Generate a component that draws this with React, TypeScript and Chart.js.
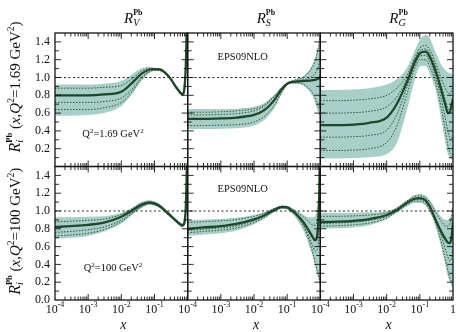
import React, { useEffect, useRef } from 'react';
import { Chart, registerables } from 'chart.js';

Chart.register(...registerables);

// ---------------- data ----------------
const X_VALUES = [1e-4, 3e-4, 1e-3, 3e-3, 0.01, 0.02, 0.04, 0.07, 0.1, 0.15, 0.2, 0.3, 0.45, 0.6, 0.7, 0.8, 0.9, 0.95, 1];
const DECADE_EXPONENTS = ['-4', '-3', '-2', '-1'];
const LAST_X_LABEL = '1';
const Y_TICKS_TOP = ['0.2', '0.4', '0.6', '0.8', '1.0', '1.2', '1.4'];
const Y_TICKS_BOTTOM = ['0.0', '0.2', '0.4', '0.6', '0.8', '1.0', '1.2', '1.4'];
const FLAVOURS = ['V', 'S', 'G'];
const Q2_LABELS = ['1.69', '100'];
const SET_NAME = 'EPS09NLO';
const REF_VALUE = 1.0;

// Q^2 = 1.69 GeV^2, valence
const RV_Q1_CENTRAL = [0.80, 0.80, 0.80, 0.81, 0.84, 0.93, 1.04, 1.09, 1.095, 1.09, 1.06, 0.99, 0.89, 0.83, 0.81, 0.88, 1.25, 1.7, 2.5];
const RV_Q1_UPPER = [0.92, 0.92, 0.92, 0.93, 0.96, 1.03, 1.10, 1.12, 1.11, 1.10, 1.075, 1.01, 0.91, 0.85, 0.83, 0.91, 1.3, 1.75, 2.6];
const RV_Q1_LOWER = [0.57, 0.57, 0.58, 0.60, 0.68, 0.80, 0.96, 1.05, 1.075, 1.07, 1.045, 0.97, 0.87, 0.81, 0.79, 0.85, 1.2, 1.65, 2.4];
const RV_Q1_SET1 = [0.88, 0.88, 0.88, 0.89, 0.91, 0.98, 1.07, 1.10, 1.10, 1.095, 1.065, 1.0, 0.90, 0.84, 0.82, 0.89, 1.28, 1.72, 2.5];
const RV_Q1_SET2 = [0.72, 0.72, 0.72, 0.73, 0.77, 0.86, 1.0, 1.07, 1.085, 1.08, 1.055, 0.98, 0.88, 0.82, 0.80, 0.86, 1.22, 1.68, 2.45];
const RV_Q1_SET3 = [0.64, 0.64, 0.64, 0.66, 0.72, 0.83, 0.98, 1.06, 1.08, 1.075, 1.05, 0.975, 0.875, 0.815, 0.795, 0.86, 1.22, 1.67, 2.45];

// Q^2 = 1.69 GeV^2, sea
const RS_Q1_CENTRAL = [0.535, 0.535, 0.54, 0.55, 0.58, 0.63, 0.74, 0.87, 0.93, 0.95, 0.955, 0.96, 0.965, 0.97, 0.975, 0.98, 0.99, 1.0, 1.02];
const RS_Q1_UPPER = [0.645, 0.645, 0.645, 0.65, 0.67, 0.71, 0.80, 0.90, 0.945, 0.97, 0.985, 1.01, 1.08, 1.16, 1.22, 1.30, 1.40, 1.46, 1.52];
const RS_Q1_LOWER = [0.42, 0.42, 0.425, 0.43, 0.46, 0.52, 0.65, 0.82, 0.91, 0.93, 0.93, 0.91, 0.85, 0.78, 0.72, 0.64, 0.58, 0.57, 0.58];
const RS_Q1_SET1 = [0.61, 0.61, 0.615, 0.625, 0.65, 0.69, 0.79, 0.89, 0.94, 0.965, 0.98, 1.0, 1.06, 1.13, 1.19, 1.27, 1.36, 1.42, 1.48];
const RS_Q1_SET2 = [0.46, 0.46, 0.465, 0.47, 0.50, 0.56, 0.68, 0.84, 0.92, 0.94, 0.94, 0.925, 0.88, 0.82, 0.77, 0.70, 0.66, 0.72, 0.95];
const RS_Q1_SET3 = [0.58, 0.58, 0.585, 0.595, 0.625, 0.675, 0.78, 0.885, 0.935, 0.955, 0.965, 0.975, 0.99, 1.02, 1.05, 1.09, 1.14, 1.18, 1.22];

// Q^2 = 1.69 GeV^2, gluon
const RG_Q1_CENTRAL = [0.465, 0.465, 0.47, 0.49, 0.55, 0.70, 0.94, 1.17, 1.27, 1.29, 1.23, 1.07, 0.85, 0.68, 0.60, 0.61, 0.68, 0.72, 0.76];
const RG_Q1_UPPER = [0.86, 0.86, 0.865, 0.88, 0.92, 0.98, 1.10, 1.30, 1.42, 1.48, 1.44, 1.28, 1.14, 1.08, 1.06, 1.05, 1.04, 1.03, 1.02];
const RG_Q1_LOWER = [0.09, 0.09, 0.095, 0.105, 0.14, 0.26, 0.62, 0.97, 1.12, 1.13, 1.04, 0.86, 0.52, 0.25, 0.14, 0.10, 0.08, 0.08, 0.08];
const RG_Q1_SET1 = [0.74, 0.74, 0.745, 0.76, 0.80, 0.88, 1.02, 1.22, 1.33, 1.36, 1.31, 1.16, 0.98, 0.87, 0.83, 0.82, 0.85, 0.88, 0.90];
const RG_Q1_SET2 = [0.60, 0.60, 0.605, 0.62, 0.67, 0.78, 0.98, 1.20, 1.30, 1.32, 1.27, 1.11, 0.90, 0.74, 0.66, 0.63, 0.68, 0.72, 0.75];
const RG_Q1_SET3 = [0.33, 0.33, 0.335, 0.35, 0.41, 0.58, 0.88, 1.14, 1.24, 1.25, 1.18, 1.0, 0.75, 0.52, 0.40, 0.33, 0.32, 0.33, 0.35];
const RG_Q1_SET4 = [0.18, 0.18, 0.185, 0.20, 0.27, 0.45, 0.80, 1.10, 1.20, 1.20, 1.12, 0.94, 0.64, 0.38, 0.24, 0.16, 0.13, 0.12, 0.12];

// Q^2 = 100 GeV^2, valence
const RV_Q2_CENTRAL = [0.82, 0.83, 0.845, 0.87, 0.935, 1.0, 1.07, 1.095, 1.085, 1.05, 1.01, 0.95, 0.89, 0.85, 0.84, 0.87, 1.15, 1.6, 2.5];
const RV_Q2_UPPER = [0.93, 0.93, 0.935, 0.94, 0.98, 1.03, 1.10, 1.12, 1.11, 1.07, 1.03, 0.97, 0.91, 0.87, 0.86, 0.90, 1.2, 1.65, 2.6];
const RV_Q2_LOWER = [0.69, 0.70, 0.72, 0.77, 0.86, 0.95, 1.03, 1.07, 1.06, 1.03, 0.99, 0.93, 0.87, 0.83, 0.82, 0.85, 1.1, 1.55, 2.4];
const RV_Q2_SET1 = [0.88, 0.885, 0.895, 0.91, 0.96, 1.02, 1.085, 1.105, 1.095, 1.06, 1.02, 0.96, 0.90, 0.86, 0.85, 0.88, 1.17, 1.62, 2.5];
const RV_Q2_SET2 = [0.76, 0.77, 0.79, 0.82, 0.90, 0.975, 1.05, 1.085, 1.075, 1.04, 1.0, 0.94, 0.88, 0.84, 0.83, 0.86, 1.13, 1.58, 2.5];
const RV_Q2_SET3 = [0.72, 0.73, 0.75, 0.79, 0.88, 0.965, 1.045, 1.08, 1.07, 1.035, 0.995, 0.935, 0.875, 0.835, 0.825, 0.855, 1.12, 1.57, 2.5];

// Q^2 = 100 GeV^2, sea
const RS_Q2_CENTRAL = [0.80, 0.815, 0.83, 0.855, 0.905, 0.95, 1.01, 1.045, 1.04, 0.995, 0.955, 0.88, 0.78, 0.70, 0.67, 0.72, 1.0, 1.4, 2.3];
const RS_Q2_UPPER = [0.90, 0.905, 0.91, 0.925, 0.955, 0.985, 1.035, 1.06, 1.06, 1.03, 1.0, 0.96, 0.93, 0.93, 0.95, 1.02, 1.3, 1.7, 2.5];
const RS_Q2_LOWER = [0.72, 0.735, 0.75, 0.78, 0.85, 0.91, 0.985, 1.025, 1.015, 0.96, 0.90, 0.79, 0.62, 0.48, 0.38, 0.29, 0.22, 0.18, 0.16];
const RS_Q2_SET1 = [0.87, 0.88, 0.89, 0.905, 0.94, 0.975, 1.025, 1.055, 1.05, 1.015, 0.985, 0.935, 0.88, 0.84, 0.84, 0.90, 1.2, 1.6, 2.4];
const RS_Q2_SET2 = [0.755, 0.77, 0.785, 0.81, 0.87, 0.925, 0.995, 1.035, 1.03, 0.98, 0.935, 0.85, 0.72, 0.60, 0.55, 0.56, 0.75, 1.1, 1.8];
const RS_Q2_SET3 = [0.78, 0.795, 0.81, 0.835, 0.89, 0.94, 1.0, 1.04, 1.035, 0.985, 0.94, 0.84, 0.68, 0.52, 0.42, 0.33, 0.26, 0.22, 0.20];

// Q^2 = 100 GeV^2, gluon
const RG_Q2_CENTRAL = [0.875, 0.88, 0.89, 0.91, 0.955, 1.01, 1.09, 1.14, 1.145, 1.12, 1.05, 0.90, 0.76, 0.68, 0.645, 0.64, 0.70, 0.78, 0.88];
const RG_Q2_UPPER = [0.98, 0.98, 0.98, 0.985, 0.995, 1.04, 1.12, 1.18, 1.19, 1.17, 1.12, 1.02, 0.93, 0.90, 0.90, 0.92, 0.97, 1.02, 1.08];
const RG_Q2_LOWER = [0.80, 0.805, 0.815, 0.84, 0.91, 0.98, 1.05, 1.09, 1.09, 1.06, 0.99, 0.83, 0.58, 0.38, 0.27, 0.20, 0.16, 0.15, 0.15];
const RG_Q2_SET1 = [0.94, 0.94, 0.945, 0.955, 0.98, 1.03, 1.11, 1.165, 1.17, 1.15, 1.10, 0.99, 0.88, 0.83, 0.83, 0.86, 0.92, 0.98, 1.04];
const RG_Q2_SET2 = [0.83, 0.835, 0.845, 0.865, 0.92, 0.99, 1.065, 1.11, 1.11, 1.08, 1.01, 0.86, 0.64, 0.44, 0.33, 0.25, 0.21, 0.20, 0.20];
const RG_Q2_SET3 = [0.86, 0.865, 0.875, 0.895, 0.94, 1.0, 1.08, 1.125, 1.13, 1.10, 1.04, 0.90, 0.72, 0.56, 0.48, 0.44, 0.47, 0.52, 0.58];

const PANELS = [
  { col: 0, row: 0, central: RV_Q1_CENTRAL, upper: RV_Q1_UPPER, lower: RV_Q1_LOWER, sets: [RV_Q1_SET1, RV_Q1_SET2, RV_Q1_SET3] },
  { col: 1, row: 0, central: RS_Q1_CENTRAL, upper: RS_Q1_UPPER, lower: RS_Q1_LOWER, sets: [RS_Q1_SET1, RS_Q1_SET2, RS_Q1_SET3] },
  { col: 2, row: 0, central: RG_Q1_CENTRAL, upper: RG_Q1_UPPER, lower: RG_Q1_LOWER, sets: [RG_Q1_SET1, RG_Q1_SET2, RG_Q1_SET3, RG_Q1_SET4] },
  { col: 0, row: 1, central: RV_Q2_CENTRAL, upper: RV_Q2_UPPER, lower: RV_Q2_LOWER, sets: [RV_Q2_SET1, RV_Q2_SET2, RV_Q2_SET3] },
  { col: 1, row: 1, central: RS_Q2_CENTRAL, upper: RS_Q2_UPPER, lower: RS_Q2_LOWER, sets: [RS_Q2_SET1, RS_Q2_SET2, RS_Q2_SET3] },
  { col: 2, row: 1, central: RG_Q2_CENTRAL, upper: RG_Q2_UPPER, lower: RG_Q2_LOWER, sets: [RG_Q2_SET1, RG_Q2_SET2, RG_Q2_SET3] },
];

// ---------------- layout / style ----------------
const W = 456;
const H = 332;
const PAD = { left: 55, top: 33, right: 3, bottom: 32 };
const DECADES = 4;
const SPAN = 1.5; // visible y-range of one panel
const HALF_PX = (H - PAD.top - PAD.bottom) / 2;
const FONT = '"Liberation Serif", "Times New Roman", serif';
const BAND = 'rgb(168, 206, 200)';
const DARK = '#1f4628';
const SET_COLOR = 'rgba(28, 66, 36, 0.85)';

function toPoints(vals: number[], col: number, row: number, clamp: boolean) {
  return X_VALUES.map((xv, i) => {
    let v = vals[i];
    if (clamp) v = Math.max(0, Math.min(SPAN, v));
    return { x: col * DECADES + Math.log10(xv) + DECADES, y: v + (row === 0 ? SPAN : 0) };
  });
}

function rowClip(row: number) {
  return row === 0
    ? { left: 0, right: 0, top: 0, bottom: -HALF_PX }
    : { left: 0, right: 0, top: -HALF_PX, bottom: 0 };
}

type Run = { t: string; f: string; dy?: number; stay?: boolean };

function runsWidth(ctx: CanvasRenderingContext2D, runs: Run[]) {
  let w = 0;
  let pending = 0;
  for (const r of runs) {
    ctx.font = r.f;
    const rw = ctx.measureText(r.t).width;
    if (r.stay) pending = Math.max(pending, rw);
    else { w += Math.max(rw, pending); pending = 0; }
  }
  return w + pending;
}

function drawRuns(ctx: CanvasRenderingContext2D, runs: Run[], x: number, y: number) {
  let cx = x;
  let pending = 0;
  for (const r of runs) {
    ctx.font = r.f;
    ctx.fillText(r.t, cx, y + (r.dy || 0));
    const rw = ctx.measureText(r.t).width;
    if (r.stay) pending = Math.max(pending, rw);
    else { cx += Math.max(rw, pending); pending = 0; }
  }
}

function drawRunsCentered(ctx: CanvasRenderingContext2D, runs: Run[], cx: number, y: number) {
  drawRuns(ctx, runs, cx - runsWidth(ctx, runs) / 2, y);
}

const decorPlugin = {
  id: 'decor',
  afterDraw(chart: any) {
    const ctx: CanvasRenderingContext2D = chart.ctx;
    const xs = chart.scales.x;
    const ys = chart.scales.y;
    ctx.save();
    ctx.strokeStyle = '#151515';
    ctx.fillStyle = '#111';
    const seg = (a: number, b: number, c: number, d: number) => {
      ctx.beginPath(); ctx.moveTo(a, b); ctx.lineTo(c, d); ctx.stroke();
    };
    for (let c = 0; c < 3; c++) {
      for (let r = 0; r < 2; r++) {
        const base = r === 0 ? SPAN : 0;
        const x0 = xs.getPixelForValue(c * DECADES);
        const x1 = xs.getPixelForValue((c + 1) * DECADES);
        const yT = ys.getPixelForValue(base + SPAN);
        const yB = ys.getPixelForValue(base);
        ctx.lineWidth = 0.9;
        for (let d = 0; d < DECADES; d++) {
          for (let m = 1; m <= 9; m++) {
            if (d === 0 && m === 1) continue;
            const px = xs.getPixelForValue(c * DECADES + d + Math.log10(m));
            const len = m === 1 ? 6 : 3.5;
            seg(px, yT, px, yT + len);
            seg(px, yB, px, yB - len);
          }
        }
        for (let k = 1; k < 15; k++) {
          const py = ys.getPixelForValue(base + k * 0.1);
          const len = k % 2 === 0 ? 6 : 4;
          seg(x0, py, x0 + len, py);
          seg(x1, py, x1 - len, py);
        }
        ctx.lineWidth = 1.3;
        ctx.strokeRect(x0, yT, x1 - x0, yB - yT);
      }
    }

    // y tick labels
    ctx.font = `12px ${FONT}`;
    ctx.textAlign = 'right';
    ctx.textBaseline = 'middle';
    const xl = xs.getPixelForValue(0) - 5;
    for (const t of Y_TICKS_TOP) ctx.fillText(t, xl, ys.getPixelForValue(parseFloat(t) + SPAN));
    for (const t of Y_TICKS_BOTTOM) ctx.fillText(t, xl, ys.getPixelForValue(parseFloat(t)));

    ctx.textAlign = 'left';
    ctx.textBaseline = 'alphabetic';
    const yBottom = ys.getPixelForValue(0);
    const yTopRow = ys.getPixelForValue(2 * SPAN);
    const yMidRow = ys.getPixelForValue(SPAN);

    for (let c = 0; c < 3; c++) {
      const x0 = xs.getPixelForValue(c * DECADES);
      const x1 = xs.getPixelForValue((c + 1) * DECADES);
      // x tick labels
      DECADE_EXPONENTS.forEach((e, d) => {
        const px = xs.getPixelForValue(c * DECADES + d);
        drawRunsCentered(ctx, [
          { t: '10', f: `12px ${FONT}` },
          { t: e, f: `8px ${FONT}`, dy: -6 },
        ], px, yBottom + 13);
      });
      if (c === 2) {
        ctx.font = `12px ${FONT}`;
        ctx.textAlign = 'center';
        ctx.fillText(LAST_X_LABEL, x1, yBottom + 13);
        ctx.textAlign = 'left';
      }
      // x axis title
      ctx.font = `italic 14px ${FONT}`;
      ctx.textAlign = 'center';
      ctx.fillText('x', (x0 + x1) / 2 + 2, yBottom + 29);
      ctx.textAlign = 'left';
      // panel title
      drawRuns(ctx, [
        { t: 'R', f: `italic 15px ${FONT}` },
        { t: FLAVOURS[c], f: `italic 10px ${FONT}`, dy: 3, stay: true },
        { t: 'Pb', f: `bold 8px ${FONT}`, dy: -8 },
      ], x0 + 69, yTopRow - 10);
    }

    // in-panel labels
    const x0c0 = xs.getPixelForValue(0);
    const x0c1 = xs.getPixelForValue(DECADES);
    Q2_LABELS.forEach((q, r) => {
      const top = r === 0 ? yTopRow : yMidRow;
      drawRunsCentered(ctx, [
        { t: 'Q', f: `10.5px ${FONT}` },
        { t: '2', f: `7px ${FONT}`, dy: -4 },
        { t: `=${q} GeV`, f: `10.5px ${FONT}` },
        { t: '2', f: `7px ${FONT}`, dy: -4 },
      ], x0c0 + 58, top + 104);
      ctx.font = `10.5px ${FONT}`;
      ctx.textAlign = 'center';
      ctx.fillText(SET_NAME, x0c1 + 55, top + (r === 0 ? 27 : 25.5));
      ctx.textAlign = 'left';

      // rotated y title
      const cy = r === 0 ? 87 : (yMidRow + yBottom) / 2 - 2;
      ctx.save();
      ctx.translate(20, cy);
      ctx.rotate(-Math.PI / 2);
      drawRunsCentered(ctx, [
        { t: 'R', f: `italic 16px ${FONT}` },
        { t: 'i', f: `italic 10.5px ${FONT}`, dy: 3, stay: true },
        { t: 'Pb', f: `bold 8.5px ${FONT}`, dy: -8.5 },
        { t: ' (', f: `15px ${FONT}` },
        { t: 'x', f: `italic 15px ${FONT}` },
        { t: ',', f: `15px ${FONT}` },
        { t: 'Q', f: `italic 15px ${FONT}` },
        { t: '2', f: `9.5px ${FONT}`, dy: -6.5 },
        { t: `=${q} GeV`, f: `15px ${FONT}` },
        { t: '2', f: `9.5px ${FONT}`, dy: -6.5 },
        { t: ')', f: `15px ${FONT}` },
      ], 0, 0);
      ctx.restore();
    });
    ctx.restore();
  },
};

// Chart.js paints dataset 0 last (on top), so the array is ordered top-most first.
function buildDatasets() {
  const fills: any[] = [];
  const lines: any[] = [];
  const centrals: any[] = [];
  PANELS.forEach((p) => {
    const clip = rowClip(p.row);
    fills.push({
      data: toPoints(p.lower, p.col, p.row, true),
      borderWidth: 0, pointRadius: 0, fill: false, clip,
      cubicInterpolationMode: 'monotone',
    });
    fills.push({
      data: toPoints(p.upper, p.col, p.row, true),
      borderWidth: 0, pointRadius: 0, fill: '-1', backgroundColor: BAND, clip,
      cubicInterpolationMode: 'monotone',
    });
    p.sets.forEach((s) => {
      lines.push({
        data: toPoints(s, p.col, p.row, false),
        borderColor: SET_COLOR, borderWidth: 1, borderDash: [1.5, 1.5],
        pointRadius: 0, fill: false, clip, cubicInterpolationMode: 'monotone',
      });
    });
    centrals.push({
      data: toPoints(p.central, p.col, p.row, false),
      borderColor: DARK, borderWidth: 2.3, pointRadius: 0, fill: false, clip,
      cubicInterpolationMode: 'monotone',
    });
  });
  const refs = [0, 1].map((row) => ({
    data: [
      { x: 0, y: REF_VALUE + (row === 0 ? SPAN : 0) },
      { x: 3 * DECADES, y: REF_VALUE + (row === 0 ? SPAN : 0) },
    ],
    borderColor: '#222', borderWidth: 1, borderDash: [2, 2.5], pointRadius: 0, fill: false,
  }));
  return [...centrals, ...lines, ...refs, ...fills];
}

export default function App() {
  const ref = useRef<HTMLCanvasElement | null>(null);
  useEffect(() => {
    if (!ref.current) return;
    const chart = new Chart(ref.current, {
      type: 'line',
      data: { datasets: buildDatasets() },
      options: {
        animation: false,
        responsive: false,
        events: [],
        layout: { padding: PAD },
        plugins: {
          legend: { display: false },
          tooltip: { enabled: false },
          filler: { propagate: false },
        },
        elements: { point: { radius: 0 } },
        scales: {
          x: { type: 'linear', min: 0, max: 3 * DECADES, display: false },
          y: { type: 'linear', min: 0, max: 2 * SPAN, display: false },
        },
      } as any,
      plugins: [decorPlugin],
    });
    return () => chart.destroy();
  }, []);
  return (
    <div style={{ position: 'absolute', left: 0, top: 0, width: W, height: H, background: '#fff' }}>
      <canvas ref={ref} width={W} height={H} style={{ display: 'block' }} />
    </div>
  );
}
